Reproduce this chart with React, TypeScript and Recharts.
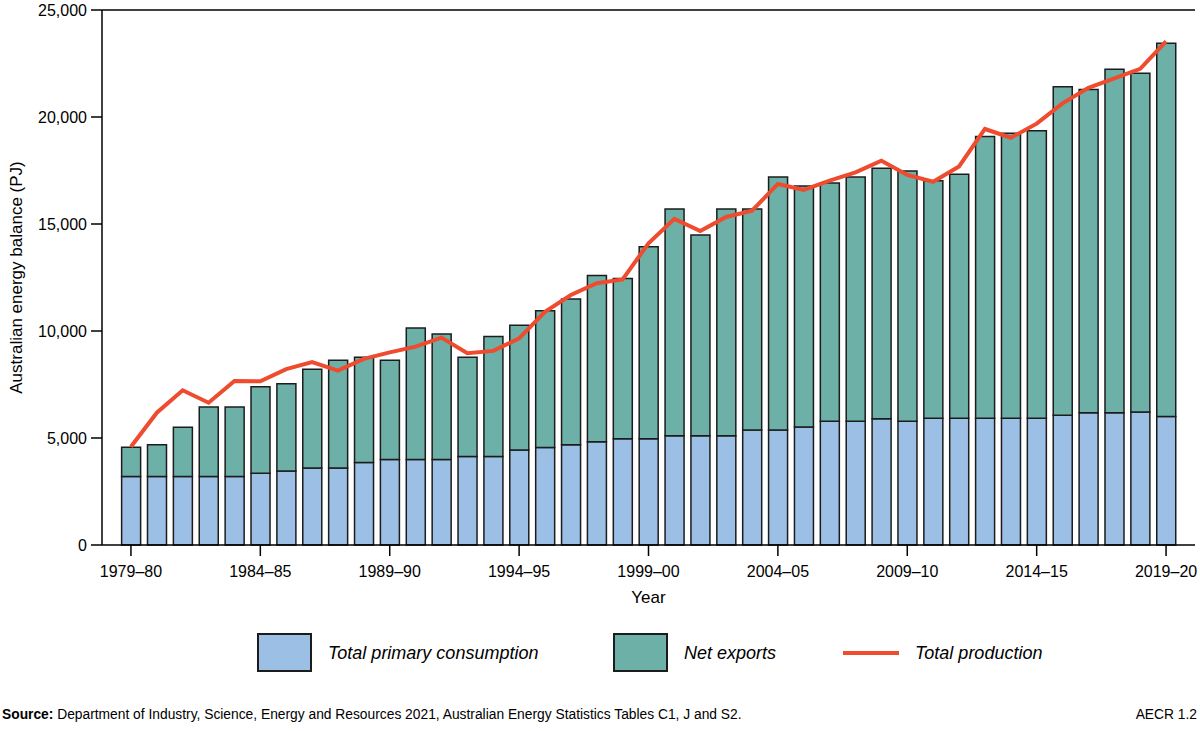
import React from 'react';
import { ComposedChart, Bar, Line, XAxis, YAxis, ReferenceLine, Legend } from 'recharts';

const years = [
  '1979–80','1980–81','1981–82','1982–83','1983–84','1984–85','1985–86','1986–87','1987–88','1988–89',
  '1989–90','1990–91','1991–92','1992–93','1993–94','1994–95','1995–96','1996–97','1997–98','1998–99',
  '1999–00','2000–01','2001–02','2002–03','2003–04','2004–05','2005–06','2006–07','2007–08','2008–09',
  '2009–10','2010–11','2011–12','2012–13','2013–14','2014–15','2015–16','2016–17','2017–18','2018–19',
  '2019–20',
];

const consumption = [
  3200, 3200, 3200, 3200, 3200, 3350, 3460, 3600, 3600, 3860,
  4000, 4000, 4000, 4140, 4140, 4440, 4560, 4690, 4830, 4970,
  4970, 5100, 5100, 5100, 5370, 5370, 5510, 5780, 5780, 5900,
  5780, 5920, 5920, 5920, 5920, 5920, 6060, 6180, 6180, 6210,
  6010,
];

const netExports = [
  1370, 1490, 2300, 3250, 3250, 4050, 4080, 4610, 5030, 4910,
  4630, 6140, 5860, 4630, 5600, 5830, 6390, 6810, 7760, 7480,
  8970, 10600, 9390, 10600, 10330, 11830, 11270, 11140, 11420, 11700,
  11700, 11100, 11400, 13170, 13320, 13440, 15350, 15100, 16050, 15840,
  17440,
];

const production = [
  4590, 6180, 7230, 6650, 7660, 7650, 8220, 8550, 8150, 8700,
  9000, 9270, 9690, 8960, 9070, 9660, 10900, 11680, 12230, 12410,
  14100, 15240, 14670, 15330, 15620, 16870, 16590, 17025, 17410, 17960,
  17290, 16975, 17690, 19440, 19030, 19690, 20640, 21360, 21810, 22250,
  23530,
];

const yTicks = [0, 5000, 10000, 15000, 20000, 25000];

const data = years.map((year, i) => ({
  year,
  consumption: consumption[i],
  netExports: netExports[i],
  production: production[i],
}));

const FONT = '"Liberation Sans", Arial, Helvetica, sans-serif';
const BLUE = '#9BBFE5';
const TEAL = '#6DB0A8';
const RED = '#EE4B2F';
const EDGE = '#1c1c1c';

const fmt = (v: number) => v.toLocaleString('en-US');

const legendText: React.CSSProperties = {
  position: 'absolute',
  top: 19,
  fontSize: 18,
  lineHeight: '18px',
  fontStyle: 'italic',
  color: '#000',
  whiteSpace: 'nowrap',
};

const LegendContent = () => (
  <div style={{ position: 'relative', width: 1200, height: 50, fontFamily: FONT }}>
    <div style={{ position: 'absolute', left: 257, top: 8, width: 51, height: 35, background: BLUE, border: `2px solid ${EDGE}` }} />
    <div style={{ ...legendText, left: 328 }}>Total primary consumption</div>
    <div style={{ position: 'absolute', left: 613, top: 8, width: 51, height: 35, background: TEAL, border: `2px solid ${EDGE}` }} />
    <div style={{ ...legendText, left: 684 }}>Net exports</div>
    <div style={{ position: 'absolute', left: 843, top: 26, width: 56, height: 4, background: RED }} />
    <div style={{ ...legendText, left: 915 }}>Total production</div>
  </div>
);

export default function App() {
  return (
    <div style={{ position: 'fixed', left: 0, top: 0, width: 1200, height: 731, background: '#fff', fontFamily: FONT, overflow: 'hidden' }}>
      <ComposedChart
        width={1200}
        height={700}
        data={data}
        margin={{ top: 10, right: 5, bottom: 95, left: 0 }}
        barCategoryGap="14%"
      >
        <XAxis
          dataKey="year"
          interval={4}
          height={60}
          padding={{ left: 16, right: 16 }}
          tickSize={11}
          tickMargin={10}
          axisLine={{ stroke: '#000', strokeWidth: 1.5 }}
          tickLine={{ stroke: '#000', strokeWidth: 1.5 }}
          tick={{ fill: '#000', fontSize: 16, fontFamily: FONT }}
          label={{ value: 'Year', position: 'insideBottom', offset: 2, fill: '#000', fontSize: 17, fontFamily: FONT }}
        />
        <YAxis
          yAxisId="left"
          domain={[0, 25000]}
          ticks={yTicks}
          width={102}
          tickFormatter={fmt}
          tickSize={11}
          tickMargin={4}
          axisLine={{ stroke: '#000', strokeWidth: 1.5 }}
          tickLine={{ stroke: '#000', strokeWidth: 1.5 }}
          tick={{ fill: '#000', fontSize: 16, fontFamily: FONT }}
          label={{ value: 'Australian energy balance (PJ)', angle: -90, position: 'insideLeft', offset: 16, fill: '#000', fontSize: 17, fontFamily: FONT, style: { textAnchor: 'middle' } }}
        />
        <YAxis
          yAxisId="right"
          orientation="right"
          domain={[0, 25000]}
          width={0}
          tick={false}
          tickLine={false}
          axisLine={{ stroke: '#000', strokeWidth: 1.5 }}
        />
        <ReferenceLine yAxisId="left" y={25000} stroke="#000" strokeWidth={1.5} />
        <Bar yAxisId="left" dataKey="consumption" stackId="a" fill={BLUE} stroke={EDGE} strokeWidth={1.5} isAnimationActive={false} />
        <Bar yAxisId="left" dataKey="netExports" stackId="a" fill={TEAL} stroke={EDGE} strokeWidth={1.5} isAnimationActive={false} />
        <Line yAxisId="left" dataKey="production" type="linear" stroke={RED} strokeWidth={4} dot={false} isAnimationActive={false} />
        <Legend
          verticalAlign="middle"
          layout="horizontal"
          content={<LegendContent />}
          wrapperStyle={{ position: 'absolute', top: 625, left: 0, width: 1200, height: 50 }}
        />
      </ComposedChart>
      <div style={{ position: 'absolute', left: 2, top: 708, fontSize: 13.8, lineHeight: '14px', color: '#000', fontFamily: FONT, whiteSpace: 'nowrap' }}>
        <b>Source:</b> Department of Industry, Science, Energy and Resources 2021, Australian Energy Statistics Tables C1, J and S2.
      </div>
      <div style={{ position: 'absolute', right: 3, top: 708, fontSize: 13.8, lineHeight: '14px', color: '#000', fontFamily: FONT }}>AECR 1.2</div>
    </div>
  );
}
